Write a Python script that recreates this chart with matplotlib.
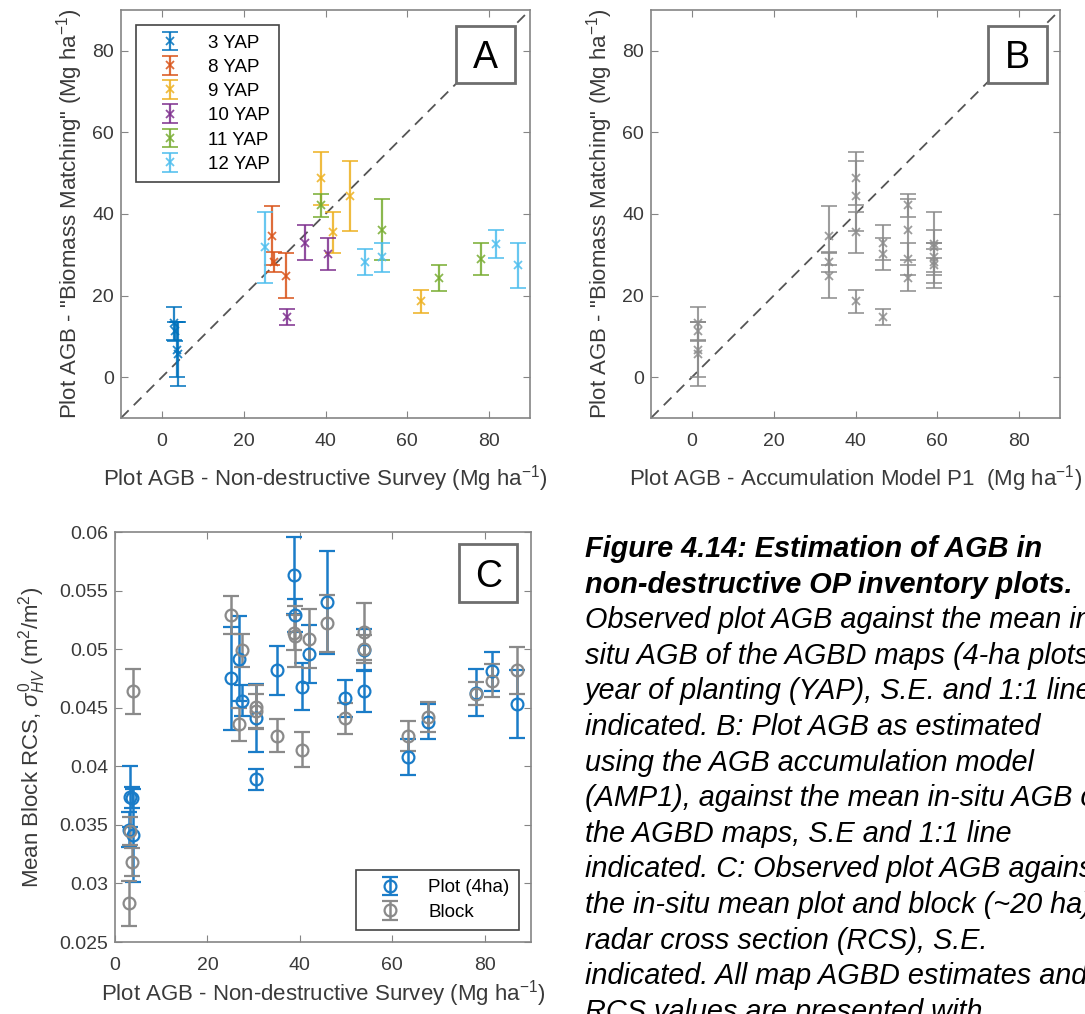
import matplotlib
matplotlib.use('Agg')
import matplotlib.pyplot as plt
from matplotlib.patches import Rectangle
from matplotlib.ticker import FuncFormatter
import numpy as np

plt.rcParams['font.family'] = ['Liberation Sans', 'DejaVu Sans']
plt.rcParams['mathtext.fontset'] = 'custom'
plt.rcParams['mathtext.rm'] = 'Liberation Sans'
plt.rcParams['mathtext.it'] = 'Liberation Sans:italic'
plt.rcParams['mathtext.bf'] = 'Liberation Sans:bold'

# one entry per YAP group, one value per plot
yap_labels = ['3 YAP', '8 YAP', '9 YAP', '10 YAP', '11 YAP', '12 YAP']
yap_colors = ['#0072BD', '#D95319', '#EDB120', '#7E2F8E', '#77AC30', '#4DBEEE']
survey_agb = [[3.0, 3.3, 3.6, 3.9], [26.9, 27.5, 30.4], [38.8, 45.9, 41.9, 63.4],
              [35.1, 40.5, 30.6], [38.9, 53.8, 67.8, 78.1], [25.1, 49.7, 53.9, 81.6, 87.0]]
matched_agb = [[13.2, 11.2, 6.7, 5.7], [34.7, 28.2, 24.9], [48.7, 44.4, 35.5, 18.6],
               [33.0, 30.2, 14.8], [42.1, 36.1, 24.3, 29.0], [31.8, 28.2, 29.4, 32.6, 27.4]]
matched_se = [[4.0, 2.4, 6.7, 7.9], [7.2, 2.5, 5.5], [6.5, 8.5, 5.0, 2.8],
              [4.2, 3.9, 2.0], [2.8, 7.5, 3.3, 3.9], [8.6, 3.1, 3.6, 3.5, 5.6]]
model_agb = [1.6, 33.6, 40.1, 46.6, 52.8, 59.2]

rcs_plot = [[0.0346, 0.0374, 0.0373, 0.0341], [0.0492, 0.0456, 0.0441], [0.0563, 0.0540, 0.0496, 0.0408],
            [0.0482, 0.0468, 0.0389], [0.0529, 0.0499, 0.0438, 0.0463], [0.0475, 0.0458, 0.0464, 0.0481, 0.0453]]
rcs_plot_se = [[0.0015, 0.0026, 0.0009, 0.0040], [0.0036, 0.0013, 0.0029], [0.0033, 0.0044, 0.0025, 0.0015],
               [0.0021, 0.0020, 0.0009], [0.0014, 0.0018, 0.0015, 0.0020], [0.0044, 0.0016, 0.0018, 0.0017, 0.0029]]
rcs_block = [[0.0283, 0.0345, 0.0318, 0.0464], [0.0436, 0.0499, 0.0451], [0.0514, 0.0522, 0.0509, 0.0426],
             [0.0426, 0.0414, 0.0447], [0.0511, 0.0515, 0.0442, 0.0462], [0.0529, 0.0441, 0.0500, 0.0473, 0.0482]]
rcs_block_se = [[0.0019, 0.0012, 0.0012, 0.0019], [0.0014, 0.0014, 0.0018], [0.0015, 0.0024, 0.0025, 0.0013],
                [0.0014, 0.0015, 0.0015], [0.0026, 0.0024, 0.0013, 0.0010], [0.0016, 0.0013, 0.0012, 0.0014, 0.0020]]

caption_bold = ['Figure 4.14: Estimation of AGB in',
                'non-destructive OP inventory plots.']
caption_body = ['Observed plot AGB against the mean in',
                'situ AGB of the AGBD maps (4-ha plots),',
                'year of planting (YAP), S.E. and 1:1 line',
                'indicated. B: Plot AGB as estimated',
                'using the AGB accumulation model',
                '(AMP1), against the mean in-situ AGB of',
                'the AGBD maps, S.E and 1:1 line',
                'indicated. C: Observed plot AGB against',
                'the in-situ mean plot and block (~20 ha)',
                'radar cross section (RCS), S.E.',
                'indicated. All map AGBD estimates and',
                'RCS values are presented with']

TICK_FS = 14
LAB_FS = 16
spine_c = '#858585'
tick_c = '#3a3a3a'
ylab_ab = 'Plot AGB - "Biomass Matching" (Mg ha$^{-1}$)'
xlab_survey = 'Plot AGB - Non-destructive Survey (Mg ha$^{-1}$)'


def style(ax):
    for s in ax.spines.values():
        s.set_color(spine_c)
        s.set_linewidth(1.2)
    ax.tick_params(direction='in', top=True, right=True, length=5, color=spine_c,
                   labelsize=TICK_FS, labelcolor=tick_c)
    ax.tick_params(axis='x', pad=11)
    ax.tick_params(axis='y', pad=5)


def panel_tag(ax, letter, cx, cy, w, h):
    ax.add_patch(Rectangle((cx - w / 2, cy - h / 2), w, h, transform=ax.transAxes, fc='white',
                           ec='#6e6e6e', lw=2, zorder=9, clip_on=False))
    ax.text(cx, cy, letter, transform=ax.transAxes, ha='center', va='center_baseline',
            fontsize=27, zorder=10)


def legend_style(leg):
    leg.get_frame().set_linewidth(1.2)
    leg.get_frame().set_edgecolor('#444444')


fig = plt.figure(figsize=(10.85, 10.14), dpi=100)
axA = fig.add_axes([0.1115, 0.5878, 0.377, 0.4024])
axB = fig.add_axes([0.600, 0.5878, 0.377, 0.4024])
axC = fig.add_axes([0.106, 0.0710, 0.3834, 0.4043])

# A
axA.plot([-10, 90], [-10, 90], '--', color='#555555', lw=1.3, dashes=(6, 4), zorder=1)
for i in range(len(yap_labels)):
    axA.errorbar(survey_agb[i], matched_agb[i], yerr=matched_se[i], fmt='x', color=yap_colors[i],
                 ms=6, mew=1.3, elinewidth=1.6, capsize=6, capthick=1.6, alpha=0.85, label=yap_labels[i])
axA.set_xlim(-10, 90)
axA.set_ylim(-10, 90)
axA.set_xticks([0, 20, 40, 60, 80])
axA.set_yticks([0, 20, 40, 60, 80])
axA.set_xlabel(xlab_survey, fontsize=LAB_FS, color=tick_c, labelpad=9)
axA.set_ylabel(ylab_ab, fontsize=LAB_FS, color=tick_c, labelpad=5)
style(axA)
legA = axA.legend(loc='upper left', bbox_to_anchor=(0.0367, 0.963), borderaxespad=0, fontsize=13.5,
                  frameon=True, fancybox=False, framealpha=1, labelspacing=0.38,
                  handlelength=2.6, handletextpad=0.74, borderpad=0.5)
legend_style(legA)
panel_tag(axA, 'A', 0.891, 0.891, 0.144, 0.140)

# B
axB.plot([-10, 90], [-10, 90], '--', color='#555555', lw=1.3, dashes=(6, 4), zorder=1)
for i in range(len(yap_labels)):
    axB.errorbar([model_agb[i]] * len(matched_agb[i]), matched_agb[i], yerr=matched_se[i], fmt='x',
                 color='#8c8c8c', ms=6, mew=1.3, elinewidth=1.5, capsize=6, capthick=1.5, alpha=0.85)
axB.set_xlim(-10, 90)
axB.set_ylim(-10, 90)
axB.set_xticks([0, 20, 40, 60, 80])
axB.set_yticks([0, 20, 40, 60, 80])
axB.set_xlabel('Plot AGB - Accumulation Model P1  (Mg ha$^{-1}$)', fontsize=LAB_FS, color=tick_c, labelpad=9)
axB.set_ylabel(ylab_ab, fontsize=LAB_FS, color=tick_c, labelpad=5)
style(axB)
panel_tag(axB, 'B', 0.896, 0.891, 0.144, 0.140)

# C
xs = np.concatenate(survey_agb)
axC.errorbar(xs, np.concatenate(rcs_plot), yerr=np.concatenate(rcs_plot_se), fmt='o', color='#1a7cc8',
             mfc='none', ms=8.5, mew=1.6, elinewidth=1.8, capsize=6, capthick=1.8, label='Plot (4ha)')
axC.errorbar(xs, np.concatenate(rcs_block), yerr=np.concatenate(rcs_block_se), fmt='o', color='#8a8a8a',
             mfc='none', ms=8.5, mew=1.6, elinewidth=1.8, capsize=6, capthick=1.8, label='Block')
axC.set_xlim(0, 90)
axC.set_ylim(0.025, 0.06)
axC.set_xticks([0, 20, 40, 60, 80])
axC.set_yticks([0.025, 0.03, 0.035, 0.04, 0.045, 0.05, 0.055, 0.06])
axC.yaxis.set_major_formatter(FuncFormatter(lambda v, p: '%g' % round(v, 4)))
axC.set_xlabel(xlab_survey, fontsize=LAB_FS, color=tick_c, labelpad=3)
axC.set_ylabel('Mean Block RCS, $\\sigma^0_{HV}$ (m$^2$/m$^2$)', fontsize=LAB_FS, color=tick_c, labelpad=8)
style(axC)
legC = axC.legend(loc='lower right', bbox_to_anchor=(0.971, 0.029), borderaxespad=0, fontsize=13.5,
                  frameon=True, fancybox=False, framealpha=1, labelspacing=0.38,
                  handlelength=2.6, handletextpad=0.74, borderpad=0.5)
legend_style(legC)
panel_tag(axC, 'C', 0.897, 0.90, 0.139, 0.141)

# caption, one text per line (baselines)
base0 = 557
step = 35.6
for k, line in enumerate(caption_bold + caption_body):
    weight = 'bold' if k < len(caption_bold) else 'normal'
    fig.text(0.539, 1 - (base0 + k * step) / 1014, line, fontsize=20.8, fontweight=weight,
             fontstyle='italic', va='baseline', ha='left', color='black')

plt.savefig('out.png', dpi=100)
